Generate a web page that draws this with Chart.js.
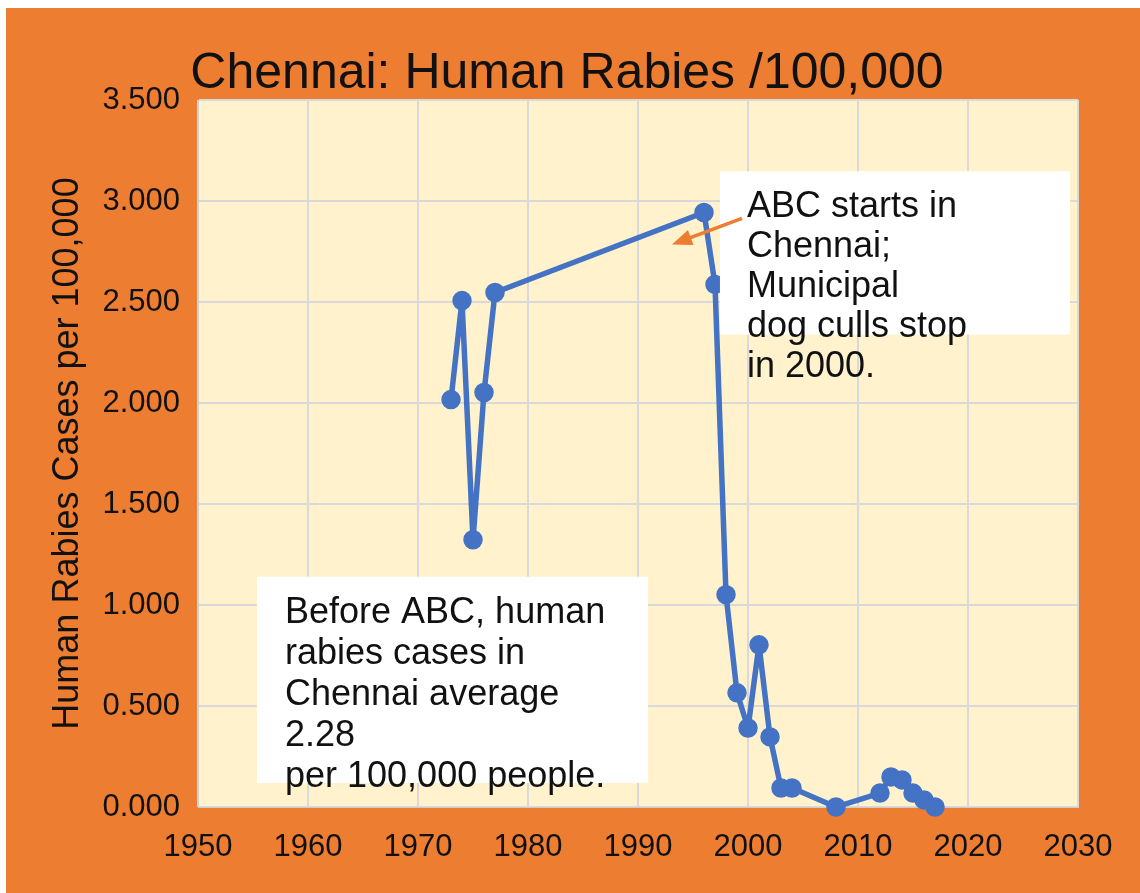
<!DOCTYPE html>
<html>
<head>
<meta charset="utf-8">
<script src="https://cdn.jsdelivr.net/npm/chart.js@4.4.0/dist/chart.umd.min.js"></script>
<style>
  body { margin: 0; background: #fff; }
  #wrap { position: absolute; left: 6px; top: 8px; width: 1134px; height: 885px; background: #ED7D31; }
</style>
</head>
<body>
<div id="wrap"><canvas id="rabiesChart"></canvas></div>
<script>
const years = [1973, 1974, 1975, 1976, 1977, 1996, 1997, 1998, 1999, 2000, 2001,
  2002, 2003, 2004, 2008, 2012, 2013, 2014, 2015, 2016, 2017];
const rates = [2.017, 2.507, 1.323, 2.052, 2.547, 2.943, 2.587, 1.051, 0.565, 0.391, 0.803,
  0.347, 0.094, 0.094, 0.000, 0.069, 0.149, 0.134, 0.069, 0.035, 0.000];
const xTicks = [1950, 1960, 1970, 1980, 1990, 2000, 2010, 2020, 2030];
const yTicks = [0, 0.5, 1, 1.5, 2, 2.5, 3, 3.5];

const chartTitle = "Chennai: Human Rabies /100,000";
const yTitle = "Human Rabies Cases per 100,000";
const abcNote = ["ABC starts in", "Chennai;", "Municipal", "dog culls stop", "in 2000."];
const avgNote = ["Before ABC, human", "rabies cases in", "Chennai average", "2.28", "per 100,000 people."];

const FONT = "'Liberation Sans', Arial, sans-serif";

// white note boxes + arrow, placed in data units
function drawNote(ctx, x, y, box, lines, gap) {
  const l = x.getPixelForValue(box.x0), r = x.getPixelForValue(box.x1);
  const t = y.getPixelForValue(box.y0), b = y.getPixelForValue(box.y1);
  ctx.fillStyle = "#fff";
  ctx.fillRect(l, t, r - l, b - t);
  ctx.fillStyle = "#111";
  ctx.font = "36px " + FONT;
  ctx.textAlign = "left";
  ctx.textBaseline = "alphabetic";
  const tx = x.getPixelForValue(box.tx), ty = y.getPixelForValue(box.ty);
  lines.forEach((s, i) => ctx.fillText(s, tx, ty + i * gap));
}

const decorPlugin = {
  id: "decor",
  beforeDraw(chart) {
    const { ctx, chartArea: a } = chart;
    ctx.save();
    ctx.fillStyle = "#FFF2CC";
    ctx.fillRect(a.left, a.top, a.right - a.left, a.bottom - a.top);
    ctx.restore();
  },
  afterDraw(chart) {
    const { ctx, scales: { x, y } } = chart;
    ctx.save();
    ctx.fillStyle = "#111";
    ctx.font = "50px " + FONT;
    ctx.textAlign = "center";
    ctx.textBaseline = "alphabetic";
    ctx.fillText(chartTitle, chart.width / 2 - 6, 80);

    drawNote(ctx, x, y, { x0: 1997.45, x1: 2029.27, y0: 3.147, y1: 2.339, tx: 1999.91, ty: 2.919 }, abcNote, 40);
    drawNote(ctx, x, y, { x0: 1955.36, x1: 1990.91, y0: 1.140, y1: 0.119, tx: 1957.91, ty: 0.912 }, avgNote, 41);

    // arrow
    const x1 = x.getPixelForValue(1999.45), y1 = y.getPixelForValue(2.914);
    const x2 = x.getPixelForValue(1993.09), y2 = y.getPixelForValue(2.785);
    const ang = Math.atan2(y2 - y1, x2 - x1);
    ctx.strokeStyle = "#ED7D31";
    ctx.fillStyle = "#ED7D31";
    ctx.lineWidth = 3.5;
    ctx.beginPath();
    ctx.moveTo(x1, y1);
    ctx.lineTo(x2 - 14 * Math.cos(ang), y2 - 14 * Math.sin(ang));
    ctx.stroke();
    ctx.beginPath();
    ctx.moveTo(x2, y2);
    ctx.lineTo(x2 - 20 * Math.cos(ang) + 8 * Math.sin(ang), y2 - 20 * Math.sin(ang) - 8 * Math.cos(ang));
    ctx.lineTo(x2 - 20 * Math.cos(ang) - 8 * Math.sin(ang), y2 - 20 * Math.sin(ang) + 8 * Math.cos(ang));
    ctx.closePath();
    ctx.fill();
    ctx.restore();
  }
};

new Chart(document.getElementById("rabiesChart"), {
  type: "line",
  data: {
    datasets: [{
      data: years.map((yr, i) => ({ x: yr, y: rates[i] })),
      borderColor: "#4472C4",
      backgroundColor: "#4472C4",
      borderWidth: 5.5,
      borderJoinStyle: "round",
      borderCapStyle: "round",
      pointRadius: 9,
      pointBorderWidth: 1.5,
      pointBackgroundColor: "#4472C4",
      tension: 0,
      clip: false
    }]
  },
  options: {
    responsive: true,
    maintainAspectRatio: false,
    animation: false,
    events: [],
    layout: { padding: { top: 92, right: 62, left: 0, bottom: 0 } },
    plugins: {
      legend: { display: false },
      tooltip: { enabled: false },
      title: { display: false }
    },
    scales: {
      x: {
        type: "linear",
        min: 1950,
        max: 2030,
        afterBuildTicks: s => { s.ticks = xTicks.map(v => ({ value: v })); },
        afterFit: s => { s.height = 86; },
        ticks: {
          color: "#111",
          font: { family: FONT, size: 31 },
          padding: 22,
          maxRotation: 0,
          callback: v => String(v)
        },
        grid: { color: "#D9D9D9", lineWidth: 2, drawTicks: false },
        border: { color: "#C9CDD4", width: 1 }
      },
      y: {
        min: 0,
        max: 3.5,
        afterBuildTicks: s => { s.ticks = yTicks.map(v => ({ value: v })); },
        afterFit: s => { s.width = 192; },
        ticks: {
          color: "#111",
          font: { family: FONT, size: 31 },
          padding: 18,
          callback: v => v.toFixed(3)
        },
        grid: { color: "#D9D9D9", lineWidth: 2, drawTicks: false },
        border: { color: "#C9CDD4", width: 1 },
        title: {
          display: true,
          text: yTitle,
          color: "#111",
          font: { family: FONT, size: 36 },
          padding: { top: 40, bottom: 0 }
        }
      }
    }
  },
  plugins: [decorPlugin]
});
</script>
</body>
</html>
